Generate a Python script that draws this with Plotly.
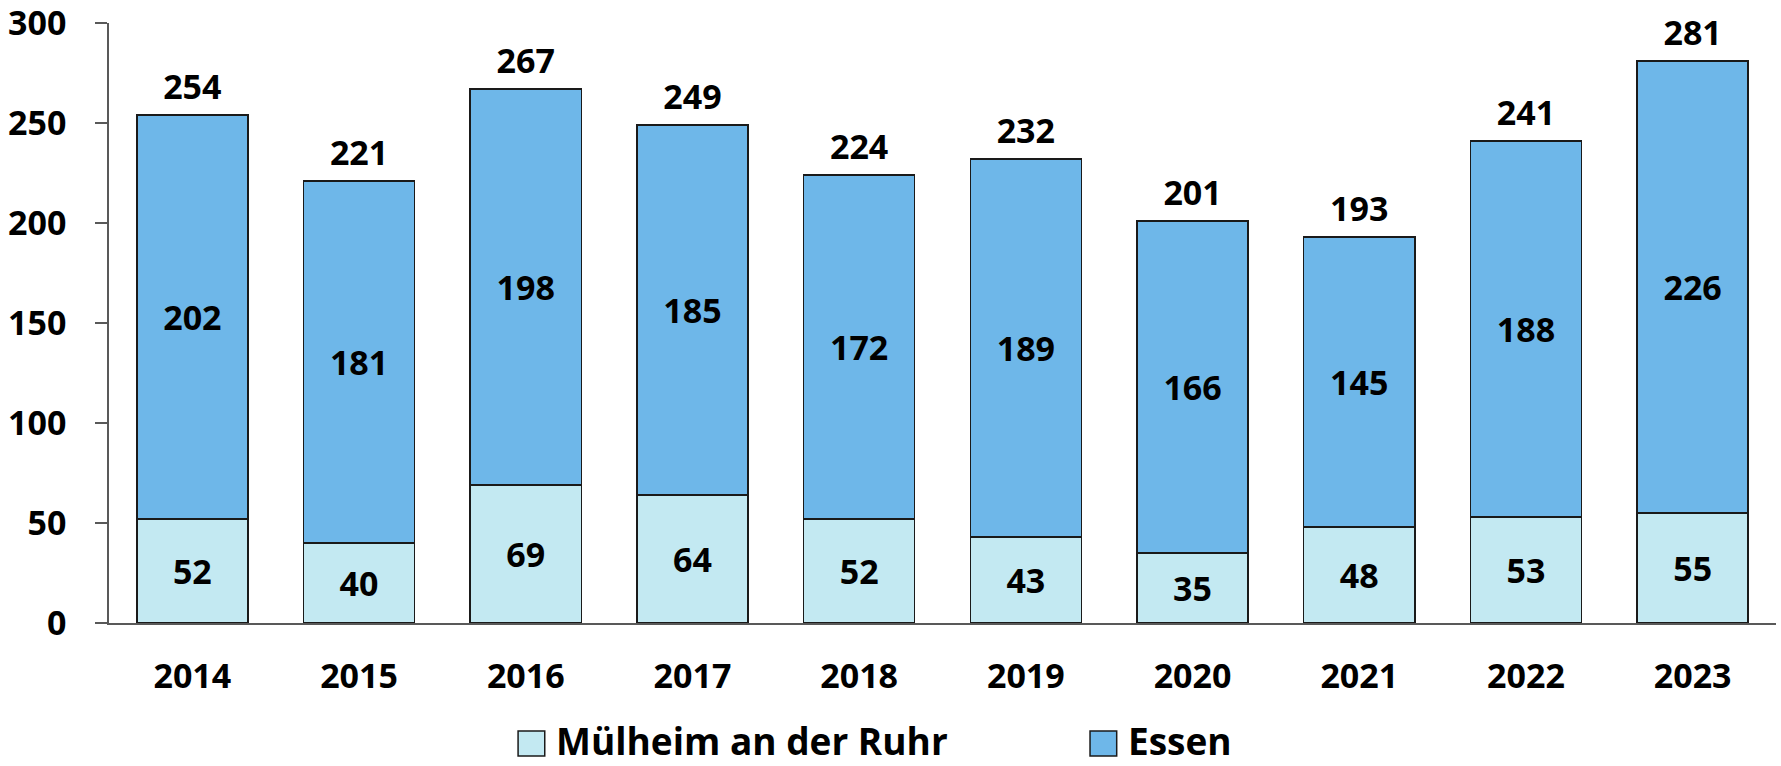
import plotly.graph_objects as go

years = ["2014", "2015", "2016", "2017", "2018", "2019", "2020", "2021", "2022", "2023"]
muelheim = [52, 40, 69, 64, 52, 43, 35, 48, 53, 55]
essen = [202, 181, 198, 185, 172, 189, 166, 145, 188, 226]
totals = [m + e for m, e in zip(muelheim, essen)]

FONT = "Open Sans"
C_MUE = "#C3E9F2"
C_ESS = "#6EB7E9"
LINE = "#1A1A1A"
LBL = dict(family=FONT, size=34, color="black", weight="bold")

fig = go.Figure()
fig.add_trace(go.Bar(
    x=years, y=muelheim, name="Mülheim an der Ruhr",
    marker=dict(color=C_MUE, line=dict(color=LINE, width=1.5)),
    text=muelheim, textposition="inside", insidetextanchor="middle",
    textfont=LBL, showlegend=False,
))
fig.add_trace(go.Bar(
    x=years, y=essen, name="Essen",
    marker=dict(color=C_ESS, line=dict(color=LINE, width=1.5)),
    text=essen, textposition="inside", insidetextanchor="middle",
    textfont=LBL, showlegend=False,
))
fig.add_trace(go.Scatter(
    x=years, y=totals, mode="markers+text", text=totals, textposition="top center",
    marker=dict(size=11, opacity=0),
    textfont=LBL, showlegend=False, cliponaxis=False, hoverinfo="skip",
))

# custom legend
legend_items = [("Mülheim an der Ruhr", C_MUE, 0.2454), ("Essen", C_ESS, 0.5885)]
for label, col, x0 in legend_items:
    fig.add_shape(
        type="rect", xref="paper", yref="paper",
        x0=x0, x1=x0 + 0.0160, y0=-0.2217, y1=-0.18,
        fillcolor=col, line=dict(color=LINE, width=1.5),
    )
    fig.add_annotation(
        xref="paper", yref="paper", x=x0 + 0.0215, y=-0.195,
        xanchor="left", yanchor="middle", text=label, showarrow=False,
        font=dict(family=FONT, size=37, color="black", weight="bold"),
    )

fig.update_layout(
    barmode="stack",
    bargap=0.333,
    width=1781, height=766,
    margin=dict(l=109, r=5, t=23, b=143, autoexpand=False),
    plot_bgcolor="white", paper_bgcolor="white",
    uniformtext=dict(minsize=34, mode="show"),
    font=dict(family=FONT, color="black"),
)
fig.update_yaxes(
    range=[0, 300], tickvals=[0, 50, 100, 150, 200, 250, 300],
    showgrid=False, zeroline=False, automargin=False,
    showline=True, linecolor="#595959", linewidth=1.5,
    ticks="outside", ticklen=12, tickcolor="#595959", tickwidth=1.5,
    ticklabelstandoff=22, ticklabeloverflow="allow",
    tickfont=LBL,
)
fig.update_xaxes(
    type="category", range=[-0.5, 9.5], automargin=False,
    showgrid=False, showline=True, linecolor="#595959", linewidth=1.5,
    ticks="", ticklabelstandoff=22,
    tickfont=LBL,
)

fig.write_html(
    "out.html",
    config={"displayModeBar": False},
    post_script="document.body.style.margin='0';document.body.style.overflow='hidden';",
)
